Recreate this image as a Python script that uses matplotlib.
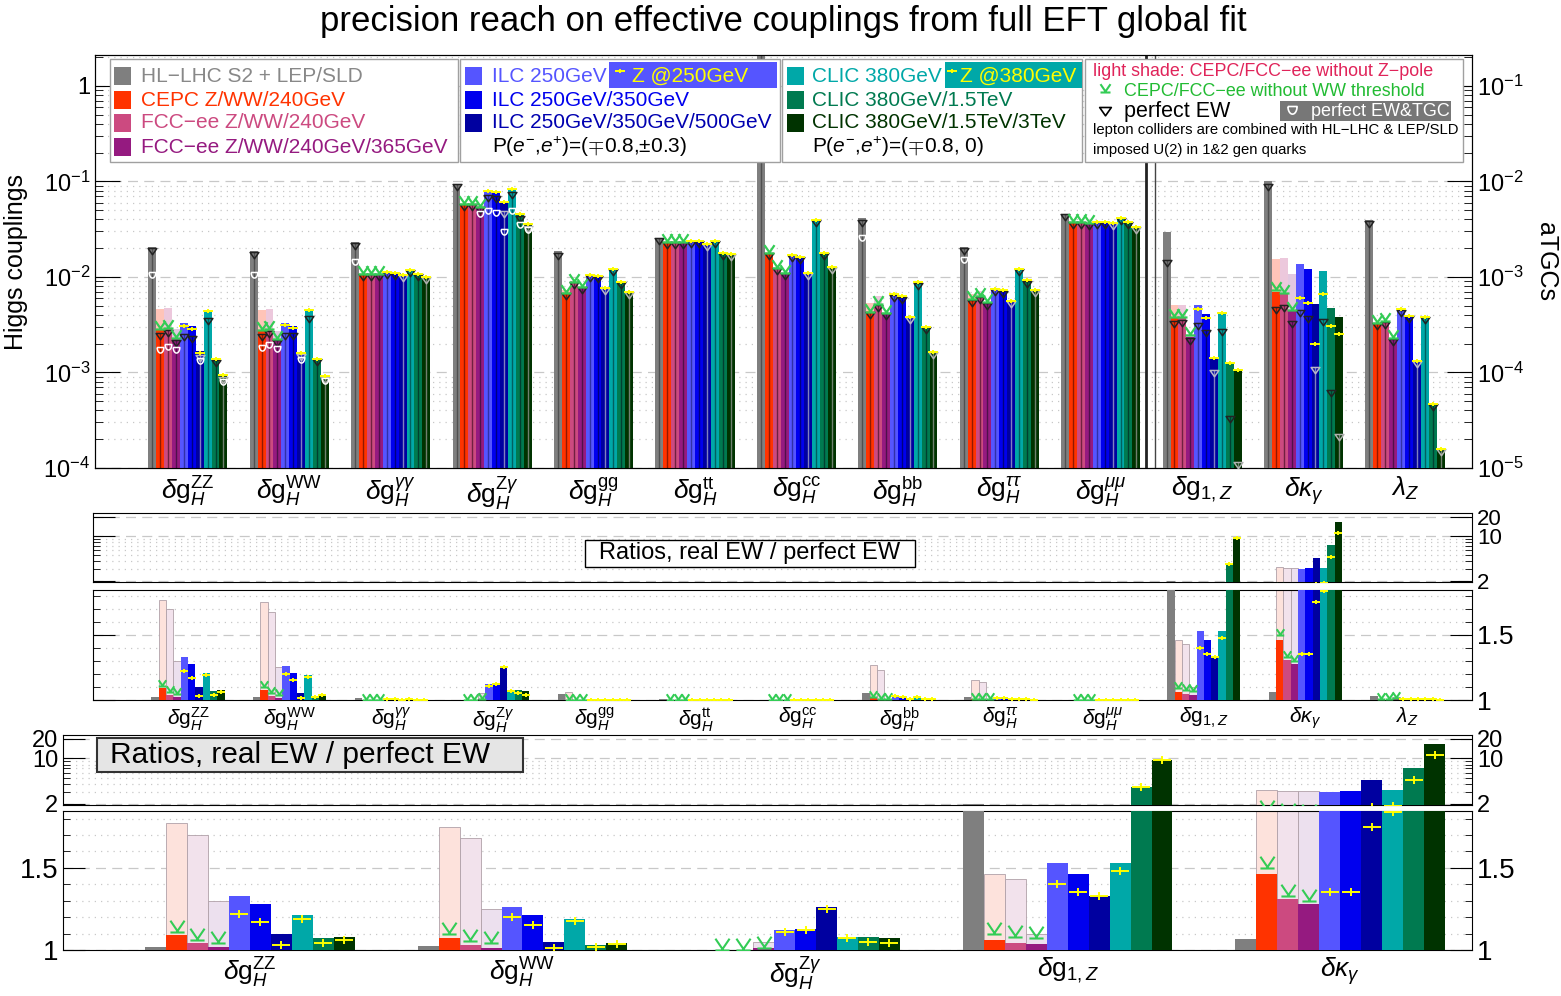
import numpy as np
import matplotlib
matplotlib.use("Agg")
import matplotlib.pyplot as plt
from matplotlib.path import Path
from matplotlib.patches import Rectangle
from matplotlib.lines import Line2D
from matplotlib.ticker import FixedLocator, FixedFormatter, NullFormatter

plt.rcParams['font.family'] = ['Liberation Sans', 'DejaVu Sans']
plt.rcParams['mathtext.fontset'] = 'custom'
plt.rcParams['mathtext.rm'] = 'Liberation Sans'
plt.rcParams['mathtext.it'] = 'Liberation Sans:italic'
plt.rcParams['mathtext.bf'] = 'Liberation Sans:bold'

# ---------------- data ----------------
coupling_labels = [r'$\delta\mathrm{g}_H^{\mathrm{ZZ}}$', r'$\delta\mathrm{g}_H^{\mathrm{WW}}$',
                   r'$\delta\mathrm{g}_H^{\gamma\gamma}$', r'$\delta\mathrm{g}_H^{\mathrm{Z}\gamma}$',
                   r'$\delta\mathrm{g}_H^{\mathrm{gg}}$', r'$\delta\mathrm{g}_H^{\mathrm{tt}}$',
                   r'$\delta\mathrm{g}_H^{\mathrm{cc}}$', r'$\delta\mathrm{g}_H^{\mathrm{bb}}$',
                   r'$\delta\mathrm{g}_H^{\tau\tau}$', r'$\delta\mathrm{g}_H^{\mu\mu}$',
                   r'$\delta\mathrm{g}_{1,Z}$', r'$\delta\kappa_\gamma$', r'$\lambda_Z$']

colliders = ['HL\u2212LHC S2 + LEP/SLD', 'CEPC Z/WW/240GeV', 'FCC\u2212ee Z/WW/240GeV',
             'FCC\u2212ee Z/WW/240GeV/365GeV', 'ILC 250GeV', 'ILC 250GeV/350GeV',
             'ILC 250GeV/350GeV/500GeV', 'CLIC 380GeV', 'CLIC 380GeV/1.5TeV',
             'CLIC 380GeV/1.5TeV/3TeV']
bar_colors = ['#7f7f7f', '#ff3300', '#cc4a80', '#951a80', '#5555ff', '#0000ee',
              '#0000a0', '#00a8a8', '#007a50', '#003300']
text_colors = ['#888888', '#ff3300', '#cc4a80', '#951a80', '#5555ff', '#0000ee',
               '#0000b0', '#00a8a8', '#007a50', '#003300']
core_colors = ['#505050', '#901800', '#702040', '#50104a', '#3030a8', '#000080',
               '#8080c0', '#006060', '#004030', '#708070']
tri_colors = ['#222222', '#222222', '#222222', '#222222', '#222222', '#222222',
              '#b8b8c8', '#222222', '#222222', '#b0b0b0']
light_top_colors = ['#ffc4b8', '#ecc8dc', '#e2c8e0']
light_ratio_colors = ['#fde2dc', '#f2e2ec', '#ece0ee']

# top panel: bar heights (Higgs rows in Higgs units, last 3 rows aTGC units)
top_main = [
    [0.0207, 0.00283, 0.0029, 0.00222, 0.00333, 0.00309, 0.00169, 0.00451, 0.00143, 0.00096],
    [0.0189, 0.00275, 0.0028, 0.0022, 0.0033, 0.0031, 0.00165, 0.0046, 0.00141, 0.00093],
    [0.0232, 0.0107, 0.0107, 0.0107, 0.0112, 0.0111, 0.0105, 0.0118, 0.0107, 0.0099],
    [0.0935, 0.0577, 0.0585, 0.0546, 0.080, 0.079, 0.0615, 0.0835, 0.0465, 0.0365],
    [0.0187, 0.00686, 0.00895, 0.0079, 0.0105, 0.0102, 0.0077, 0.01225, 0.0088, 0.0070],
    [0.0258, 0.0234, 0.0234, 0.0234, 0.0236, 0.0236, 0.0222, 0.0240, 0.0177, 0.0176],
    [5.0, 0.0177, 0.0123, 0.0111, 0.0170, 0.0163, 0.0111, 0.0395, 0.0177, 0.0126],
    [0.0418, 0.00434, 0.0052, 0.0042, 0.00664, 0.0063, 0.00385, 0.00895, 0.00302, 0.00165],
    [0.0207, 0.00584, 0.00624, 0.0054, 0.0076, 0.0073, 0.0056, 0.01225, 0.0092, 0.0073],
    [0.0453, 0.0373, 0.0375, 0.0370, 0.0380, 0.0380, 0.0370, 0.0411, 0.0380, 0.0332],
    [0.00299, 0.00037, 0.00037, 0.000237, 0.00051, 0.000406, 0.000141, 0.000434, 0.000127, 0.000109],
    [0.0101, 0.000703, 0.000664, 0.000445, 0.00136, 0.00122, 0.00052, 0.00116, 0.00047, 0.000379],
    [0.00395, 0.000327, 0.00034, 0.000228, 0.000458, 0.00039, 0.000133, 0.000385, 4.68e-5, 1.57e-5],
]

# perfect EW & TGC markers (top panel), nan = not shown
nan = np.nan
top_EWTGC = [
    [0.0114, 0.00186, 0.0020, 0.00186, nan, nan, 0.00141, nan, nan, 0.00085],
    [0.0114, 0.00194, 0.0021, 0.0019, nan, nan, 0.00146, nan, nan, 0.00088],
    [0.0153, nan, nan, nan, nan, nan, nan, nan, nan, nan],
    [nan, nan, nan, 0.0485, 0.0524, 0.0497, 0.0316, 0.0524, 0.0381, 0.0330],
    [nan] * 10,
    [nan] * 10,
    [nan] * 10,
    [0.0276, nan, nan, nan, nan, nan, nan, nan, nan, nan],
    [0.0161, nan, nan, nan, nan, nan, nan, nan, nan, nan],
    [nan] * 10,
    [nan] * 10,
    [nan] * 10,
    [nan] * 10,
]

# ratios real EW / perfect EW
ratio_main = [
    [1.02, 1.09, 1.04, 1.02, 1.33, 1.28, 1.10, 1.21, 1.07, 1.08],
    [1.025, 1.076, 1.03, 1.015, 1.26, 1.21, 1.05, 1.19, 1.03, 1.045],
    [1.018, 1.0, 1.0, 1.0, 1.005, 1.005, 1.003, 1.004, 1.002, 1.002],
    [1.0, 1.0, 1.0, 1.01, 1.12, 1.13, 1.26, 1.08, 1.08, 1.07],
    [1.045, 1.0, 1.0, 1.0, 1.002, 1.002, 1.0, 1.002, 1.0, 1.0],
    [1.01, 1.0, 1.0, 1.0, 1.0, 1.0, 1.0, 1.0, 1.0, 1.0],
    [1.0, 1.0, 1.0, 1.0, 1.0, 1.0, 1.0, 1.0, 1.0, 1.0],
    [1.05, 1.02, 1.01, 1.0, 1.035, 1.03, 1.01, 1.03, 1.01, 1.01],
    [1.02, 1.01, 1.0, 1.0, 1.02, 1.02, 1.005, 1.005, 1.005, 1.0],
    [1.0, 1.0, 1.0, 1.0, 1.0, 1.0, 1.0, 1.0, 1.0, 1.0],
    [2.0, 1.06, 1.045, 1.035, 1.53, 1.46, 1.33, 1.53, 3.63, 9.45],
    [1.064, 1.46, 1.31, 1.28, 3.04, 3.10, 4.6, 3.2, 7.2, 16.7],
    [1.03, 1.0, 1.0, 1.01, 1.01, 1.01, 1.005, 1.005, 1.005, 1.0],
]
# CEPC, FCC-ee 240, FCC-ee 365 without Z-pole (light shade)
ratio_light = [
    [1.77, 1.70, 1.30], [1.75, 1.68, 1.25], [1.0, 1.0, 1.0], [1.0, 1.0, 1.05],
    [1.06, 1.0, 1.0], [1.0, 1.0, 1.0], [1.0, 1.0, 1.0], [1.27, 1.23, 1.0],
    [1.15, 1.14, 1.0], [1.0, 1.0, 1.0], [1.46, 1.43, 1.10], [3.23, 3.10, 3.10],
    [1.0, 1.0, 1.02],
]
# CEPC, FCC-ee 240, FCC-ee 365 without WW threshold
ratio_noWW = [
    [1.11, 1.06, 1.045], [1.10, 1.055, 1.04], [1.0, 1.0, 1.0], [1.0, 1.0, 1.01],
    [1.0, 1.0, 1.0], [1.0, 1.0, 1.0], [1.0, 1.0, 1.0], [1.02, 1.01, 1.01],
    [1.01, 1.005, 1.005], [1.0, 1.0, 1.0], [1.095, 1.08, 1.07], [1.50, 1.33, 1.30],
    [1.01, 1.01, 1.015],
]
# ILC / CLIC with added Z-pole run
ratio_Zpole = [
    [1.22, 1.17, 1.03, 1.19, 1.04, 1.06],
    [1.20, 1.15, 1.015, 1.175, 1.02, 1.037],
    [1.005, 1.005, 1.003, 1.004, 1.002, 1.002],
    [1.11, 1.12, 1.25, 1.07, 1.05, 1.04],
    [1.002, 1.002, 1.0, 1.002, 1.0, 1.0],
    [1.0, 1.0, 1.0, 1.0, 1.0, 1.0],
    [1.0, 1.0, 1.0, 1.0, 1.0, 1.0],
    [1.03, 1.025, 1.01, 1.025, 1.01, 1.01],
    [1.015, 1.015, 1.005, 1.005, 1.005, 1.0],
    [1.0, 1.0, 1.0, 1.0, 1.0, 1.0],
    [1.40, 1.35, 1.33, 1.48, 3.6, 9.3],
    [1.35, 1.35, 1.75, 1.84, 4.7, 11.2],
    [1.01, 1.01, 1.005, 1.005, 1.005, 1.0],
]
bottom_groups = [0, 1, 3, 10, 11]

# ---------------- markers ----------------
M, L, C = Path.MOVETO, Path.LINETO, Path.CLOSEPOLY
V_MK = Path([(-0.6, 1.0), (0, 0.12), (0.6, 1.0), (-0.6, 0.0), (0.6, 0.0)], [M, L, L, M, L])
TRI_MK = Path([(-0.7, 0), (0.7, 0), (0, -1.0), (-0.7, 0)], [M, L, L, C])
PLUS_MK = Path([(-1, 0), (1, 0), (0, -0.45), (0, 0.45)], [M, L, M, L])
_t = np.linspace(0, -np.pi, 21)
U_MK = Path(np.vstack([[(-0.6, 0)], np.c_[0.6 * np.cos(_t), 1.0 * np.sin(_t)][::-1] * [-1, 1]]))

# ---------------- derived quantities ----------------
main = np.array(top_main)
perfect = main / np.array(ratio_main)
light = perfect[:, 1:4] * np.array(ratio_light)
noww = perfect[:, 1:4] * np.array(ratio_noWW)
zpole = perfect[:, 4:] * np.array(ratio_Zpole)
ewtgc = np.array(top_EWTGC, dtype=float)

W, H = 1561, 996
fig = plt.figure(figsize=(W / 100, H / 100), dpi=100)


def px_axes(x0, y0, x1, y1):
    return fig.add_axes([x0 / W, 1 - y1 / H, (x1 - x0) / W, (y1 - y0) / H])


def log_ticks(a, lo_exp, hi_exp, labels, side):
    a.yaxis.set_major_locator(FixedLocator([10.0 ** e for e in range(lo_exp, hi_exp + 1)]))
    a.yaxis.set_major_formatter(FixedFormatter(labels))
    a.yaxis.set_minor_locator(FixedLocator([m * 10.0 ** e for e in range(lo_exp, hi_exp + 1) for m in range(2, 10)]))
    a.yaxis.set_minor_formatter(NullFormatter())
    kw = dict(left=(side == 'left'), right=(side == 'right'),
              labelleft=(side == 'left'), labelright=(side == 'right'), direction='in')
    a.tick_params(axis='y', which='major', length=18, labelsize=17, **kw)
    a.tick_params(axis='y', which='minor', length=6, **kw)


# ---------------- top panel ----------------
ax = px_axes(95, 55, 1472, 468)
ax.set_yscale('log')
ax.set_ylim(1e-4, 2.11)
ax.set_xlim(-0.915, 12.66)
ax_t = ax.twinx()
ax_t.set_yscale('log')
ax_t.set_ylim(1e-5, 0.211)
log_ticks(ax, -4, 0, [r'$10^{-4}$', r'$10^{-3}$', r'$10^{-2}$', r'$10^{-1}$', '1'], 'left')
log_ticks(ax_t, -5, -1, [r'$10^{-5}$', r'$10^{-4}$', r'$10^{-3}$', r'$10^{-2}$', r'$10^{-1}$'], 'right')
ax.yaxis.grid(True, which='major', ls=(0, (8, 5)), color='#c8c8c8', lw=0.9)
ax.yaxis.grid(True, which='minor', ls=(0, (1, 4)), color='#c8c8c8', lw=0.9)
ax.set_axisbelow(True)
ax.set_xticks(range(13))
ax.set_xticklabels(coupling_labels, fontsize=19)
ax.tick_params(axis='x', length=0, pad=5)

bw = 0.078
offs = (np.arange(10) - 4.5) * bw
for g in range(13):
    a = ax if g < 10 else ax_t
    base = 1e-7
    xs = g + offs
    a.bar(xs[1:4], light[g] - base, bw, bottom=base, color=light_top_colors, zorder=2)
    a.bar(xs, main[g] - base, bw, bottom=base, color=bar_colors, zorder=3)
    a.vlines(xs, base, perfect[g], colors=core_colors, lw=1.0, zorder=4)
    for i in range(10):
        a.plot(xs[i], perfect[g, i], ls='none', marker=TRI_MK, ms=9, mfc='none',
               mec=tri_colors[i], mew=1.1, zorder=5)
    a.plot(xs, ewtgc[g], ls='none', marker=U_MK, ms=8, mfc='none', mec='white', mew=1.1, zorder=5)
    a.plot(xs[1:4], noww[g], ls='none', marker=V_MK, ms=12, mfc='none', mec='#33cc55', mew=1.6, zorder=6)
    a.plot(xs[4:], zpole[g], ls='none', marker=PLUS_MK, ms=7, mfc='none', mec='#ffff00', mew=1.4, zorder=6)

ax.axvline(9.45, color='#222222', lw=2.0, zorder=6)
ax.axvline(9.53, color='#444444', lw=1.0, zorder=6)

fig.text(783 / W, 1 - 22 / H, 'precision reach on effective couplings from full EFT global fit',
         fontsize=25, ha='center', va='center')
fig.text(16 / W, 1 - 262 / H, 'Higgs couplings', fontsize=18, rotation=90, ha='center', va='center')
fig.text(1546 / W, 1 - 262 / H, 'aTGCs', fontsize=18, rotation=270, ha='center', va='center')


# ---------------- ratio panels ----------------
def ratio_panel(a_hi, a_lo, gsel, xlim, bw, ms_v, ms_p, lab_fs, fs_hi, fs_lo, left_labels):
    offs = (np.arange(10) - 4.5) * bw
    for k, g in enumerate(gsel):
        xs = k + offs
        lr = np.array(ratio_light[g])
        rm = np.array(ratio_main[g])
        show = lr > rm[1:4] + 0.005
        for a in (a_hi, a_lo):
            if show.any():
                a.bar(xs[1:4][show], lr[show] - 1, bw, bottom=1,
                      color=np.array(light_ratio_colors)[show], edgecolor='#b0a0a8', lw=0.6, zorder=2)
            a.bar(xs, rm - 1, bw, bottom=1, color=bar_colors, zorder=3)
            a.plot(xs[1:4], ratio_noWW[g], ls='none', marker=V_MK, ms=ms_v, mfc='none',
                   mec='#33cc55', mew=1.5, zorder=6)
            a.plot(xs[4:], ratio_Zpole[g], ls='none', marker=PLUS_MK, ms=ms_p, mfc='none',
                   mec='#ffff00', mew=1.4, zorder=6)
    for a in (a_hi, a_lo):
        a.set_xlim(*xlim)
        a.set_axisbelow(True)
    a_hi.set_yscale('log')
    a_hi.set_ylim(1.9, 23)
    a_hi.yaxis.set_major_locator(FixedLocator([2, 10, 20]))
    a_hi.yaxis.set_major_formatter(FixedFormatter(['2', '10', '20']))
    a_hi.yaxis.set_minor_locator(FixedLocator([3, 4, 5, 6, 7, 8, 9]))
    a_hi.yaxis.set_minor_formatter(NullFormatter())
    a_hi.yaxis.grid(True, which='major', ls=(0, (8, 5)), color='#c8c8c8', lw=0.9)
    a_hi.yaxis.grid(True, which='minor', ls=(0, (1, 4)), color='#c8c8c8', lw=0.9)
    a_hi.set_xticks([])
    a_lo.set_ylim(1, 1.846)
    a_lo.yaxis.set_major_locator(FixedLocator([1, 1.5]))
    a_lo.yaxis.set_major_formatter(FixedFormatter(['1', '1.5']))
    a_lo.yaxis.set_minor_locator(FixedLocator([1.1, 1.2, 1.3, 1.4, 1.6, 1.7, 1.8]))
    a_lo.yaxis.set_minor_formatter(NullFormatter())
    a_lo.yaxis.grid(True, which='major', ls=(0, (8, 5)), color='#c8c8c8', lw=0.9)
    a_lo.yaxis.grid(True, which='minor', ls=(0, (1, 4)), color='#c8c8c8', lw=0.9)
    a_lo.set_xticks(range(len(gsel)))
    a_lo.set_xticklabels([coupling_labels[g] for g in gsel], fontsize=lab_fs)
    a_lo.tick_params(axis='x', length=0, pad=4)
    for a, fs in ((a_hi, fs_hi), (a_lo, fs_lo)):
        a.tick_params(axis='y', which='both', left=True, right=True, labelleft=left_labels,
                      labelright=True, direction='in', labelsize=fs)
        a.tick_params(axis='y', which='major', length=16)
        a.tick_params(axis='y', which='minor', length=5)


mid_hi = px_axes(93, 513, 1472, 582)
mid_lo = px_axes(93, 590, 1472, 700)
ratio_panel(mid_hi, mid_lo, list(range(13)), (-0.935, 12.64), 0.072, 9, 6, 15, 16, 19, False)

bot_hi = px_axes(63, 735, 1472, 805)
bot_lo = px_axes(63, 811, 1472, 950)
ratio_panel(bot_hi, bot_lo, bottom_groups, (-0.686, 4.484), 0.077, 17, 13, 19, 17, 20, True)


# ---------------- legend and annotation boxes ----------------
def P(x, y):
    return (x / W, 1 - y / H)


def box(x0, y0, x1, y1, **kw):
    fig.add_artist(Rectangle(P(x0, y1), (x1 - x0) / W, (y1 - y0) / H, transform=fig.transFigure, **kw))


def txt(x, y, s, **kw):
    ha = kw.pop('ha', 'left')
    fig.text(*P(x, y), s, ha=ha, va='center', **kw)


def mk(x, y, marker, **kw):
    fig.add_artist(Line2D([x / W], [1 - y / H], transform=fig.transFigure, marker=marker, ls='none', **kw))


for x0, x1 in [(110, 458), (460, 780), (782, 1082), (1085, 1463)]:
    box(x0, 59, x1, 162, facecolor='white', edgecolor='#a0a0a0', lw=1.0)

rows_y = [76, 100, 123, 147]
for col, (sq_x, tx_x, idx) in enumerate([(114, 141, [0, 1, 2, 3]), (465, 492, [4, 5, 6]),
                                          (787, 812, [7, 8, 9])]):
    for r, i in enumerate(idx):
        box(sq_x, rows_y[r] - 9, sq_x + 17, rows_y[r] + 9, facecolor=bar_colors[i], edgecolor='none')
        txt(tx_x, rows_y[r], colliders[i], color=text_colors[i], fontsize=15)

txt(492, 147, r'P($e^{-}$,$e^{+}$)=($\mp$0.8,$\pm$0.3)', fontsize=15)
txt(812, 147, r'P($e^{-}$,$e^{+}$)=($\mp$0.8, 0)', fontsize=15)

box(609, 62, 777, 88, facecolor='#5555ff', edgecolor='none')
mk(620, 71, PLUS_MK, ms=7, mfc='none', mec='#ffff00', mew=1.4)
txt(632, 76, 'Z @250GeV', color='#ffff00', fontsize=15)
box(945, 62, 1082, 88, facecolor='#00a8a8', edgecolor='none')
mk(952, 71, PLUS_MK, ms=7, mfc='none', mec='#ffff00', mew=1.4)
txt(960, 76, 'Z @380GeV', color='#ffff00', fontsize=15)

txt(1093, 71, 'light shade: CEPC/FCC\u2212ee without Z\u2212pole', color='#e0245a', fontsize=12.9)
mk(1105, 92, V_MK, ms=12, mfc='none', mec='#33cc55', mew=1.5)
txt(1124, 92, 'CEPC/FCC\u2212ee without WW threshold', color='#22bb33', fontsize=12.9)
mk(1105, 107, TRI_MK, ms=12, mfc='none', mec='black', mew=1.2)
txt(1124, 112, 'perfect EW', fontsize=15.5)
box(1280, 101, 1451, 121, facecolor='#777777', edgecolor='none')
mk(1292, 106, U_MK, ms=11, mfc='none', mec='white', mew=1.2)
txt(1311, 112, 'perfect EW&TGC', color='white', fontsize=13)
txt(1093, 130, 'lepton colliders are combined with HL\u2212LHC & LEP/SLD', fontsize=10.7)
txt(1093, 150, 'imposed U(2) in 1&2 gen quarks', fontsize=10.7)

box(585, 540, 915, 567, facecolor='white', edgecolor='black', lw=1.0)
txt(750, 553, 'Ratios, real EW / perfect EW', fontsize=17, ha='center')
box(97, 738, 523, 772, facecolor='#e5e5e5', edgecolor='#333333', lw=1.5)
txt(300, 755, 'Ratios, real EW / perfect EW', fontsize=21.5, ha='center')

fig.savefig('out.png', dpi=100)
